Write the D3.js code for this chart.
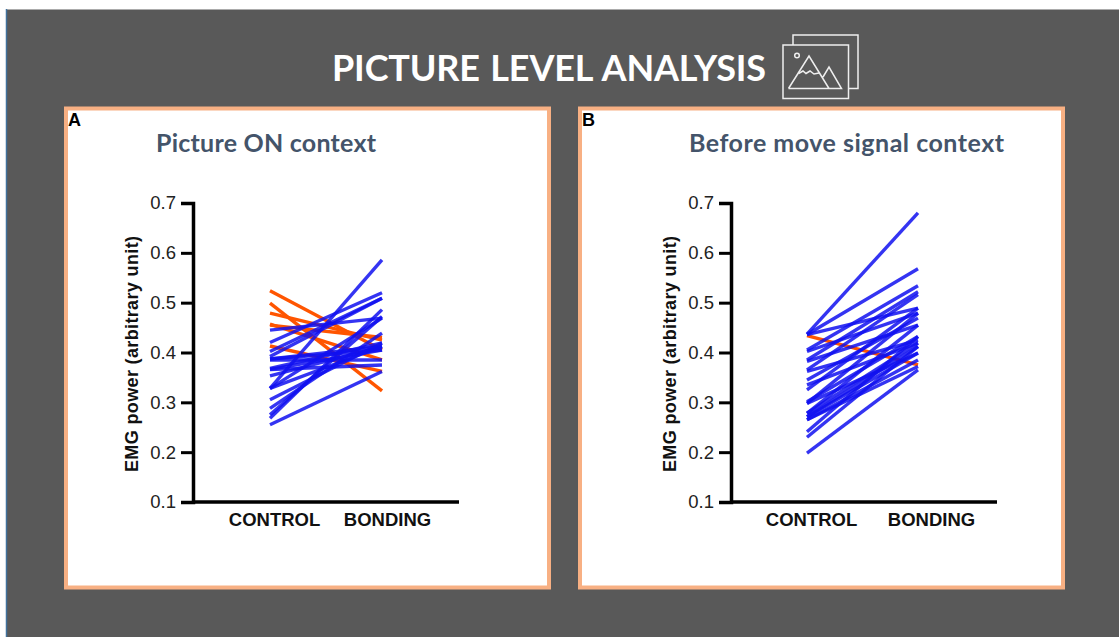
<!DOCTYPE html>
<html>
<head>
<meta charset="utf-8">
<script src="https://cdn.jsdelivr.net/npm/d3@7"></script>
<style>
  html, body { margin: 0; padding: 0; background: #fff; overflow: hidden; }
  svg { display: block; }
  .tick text { font-family: "Liberation Sans", sans-serif; }
</style>
</head>
<body>
<div id="chart"></div>
<script>
// Categories and ticks
var categories = ['CONTROL', 'BONDING']
var yTicks = [0.1, 0.2, 0.3, 0.4, 0.5, 0.6, 0.7]

// Panel A, one entry per picture
var aControl = [0.524, 0.499, 0.479, 0.457, 0.455, 0.413,
  0.445, 0.420, 0.402, 0.392, 0.387, 0.387, 0.385, 0.368, 0.366, 0.366, 0.353, 0.328, 0.328, 0.328, 0.305, 0.288, 0.275, 0.268, 0.255]
var aBonding = [0.405, 0.323, 0.425, 0.385, 0.430, 0.362,
  0.469, 0.520, 0.509, 0.509, 0.412, 0.405, 0.385, 0.419, 0.405, 0.375, 0.412, 0.586, 0.469, 0.412, 0.419, 0.439, 0.472, 0.486, 0.362]

// Panel B
var bControl = [0.434,
  0.437, 0.436, 0.436, 0.405, 0.402, 0.385, 0.382, 0.365, 0.362, 0.345, 0.335, 0.325, 0.301, 0.298, 0.298, 0.278, 0.278, 0.271, 0.271, 0.265, 0.265, 0.241, 0.230, 0.198]
var bBonding = [0.375,
  0.680, 0.568, 0.489, 0.534, 0.479, 0.522, 0.455, 0.516, 0.425, 0.469, 0.419, 0.489, 0.432, 0.479, 0.399, 0.455, 0.419, 0.399, 0.412, 0.385, 0.372, 0.432, 0.412, 0.365]

var width = 1119
var height = 637

var svg = d3.select('#chart').append('svg')
  .attr('width', width)
  .attr('height', height)

// Slide background
svg.append('rect').attr('width', width).attr('height', height).attr('fill', '#fff')
svg.append('rect').attr('x', 6.5).attr('y', 9.5).attr('width', width).attr('height', height)
  .attr('fill', '#595959')
svg.append('line').attr('x1', 6.5).attr('x2', 6.5).attr('y1', 9).attr('y2', height)
  .attr('stroke', '#41719c').attr('stroke-width', 1.5)

// Title
svg.append('text')
  .attr('x', 332).attr('y', 81)
  .attr('font-family', 'Lato, sans-serif')
  .attr('font-weight', 700)
  .attr('font-size', 36)
  .attr('word-spacing', 2)
  .attr('textLength', 434)
  .attr('fill', '#fff')
  .text('PICTURE LEVEL ANALYSIS')

// Picture icon next to the title
var icon = svg.append('g').attr('fill', 'none').attr('stroke', '#eee').attr('stroke-width', 1.5)
icon.append('path').attr('d', 'M793,45V35H858V88.5H848.5')
icon.append('rect').attr('x', 783).attr('y', 45).attr('width', 65.5).attr('height', 53.5)
icon.append('path').attr('d', 'M788.5,88.5L809,56L829,88.5M823,77L829,67L841.5,88.5H788.5')
icon.append('path').attr('d', 'M798.5,73.5L803,71L806,73.5L810,71L814,74L819,73')
icon.append('circle').attr('cx', 797).attr('cy', 55.5).attr('r', 2.3)

// One panel: frame, titles, axes, one line per picture
function drawPanel(p) {
  var g = svg.append('g')

  g.append('rect')
    .attr('x', p.left + 2).attr('y', 108.5)
    .attr('width', 483).attr('height', 479)
    .attr('fill', '#fff')
    .attr('stroke', '#f8b083')
    .attr('stroke-width', 4)

  g.append('text')
    .attr('x', p.left + 4).attr('y', 126)
    .attr('font-family', 'Liberation Sans, sans-serif')
    .attr('font-weight', 700)
    .attr('font-size', 18)
    .text(p.letter)

  g.append('text')
    .attr('x', p.titleX).attr('y', 152)
    .attr('font-family', 'Lato, sans-serif')
    .attr('font-weight', 700)
    .attr('font-size', 25)
    .attr('textLength', p.titleLength)
    .attr('fill', '#44546a')
    .text(p.title)

  var yScale = d3.scaleLinear().domain([0.1, 0.7]).range([502, 203])
  var xScale = d3.scalePoint().domain(categories).range(p.xRange)
  var labelScale = d3.scalePoint().domain(categories).range(p.labelRange)

  var yAxis = d3.axisLeft(yScale)
    .tickValues(yTicks)
    .tickFormat(d3.format('.1f'))
    .tickSize(12)
    .tickPadding(5)

  var xAxis = d3.axisBottom(labelScale).tickSize(0).tickPadding(11)

  var gy = g.append('g')
    .attr('transform', 'translate(' + p.axisX + ',0)')
    .call(yAxis)
  gy.selectAll('.tick line').attr('stroke', '#000').attr('stroke-width', 3)
  gy.selectAll('.tick text').attr('font-size', 18.5).attr('fill', '#222')
  gy.select('.domain').attr('stroke', '#000').attr('stroke-width', 3.5)

  var gx = g.append('g')
    .attr('transform', 'translate(0,502)')
    .call(xAxis)
  gx.select('.domain')
    .attr('d', 'M' + p.axisX + ',0H' + (p.axisX + 266))
    .attr('stroke', '#000').attr('stroke-width', 3.5)
  gx.selectAll('.tick text')
    .attr('font-size', 18.5).attr('font-weight', 700).attr('fill', '#111')

  g.append('text')
    .attr('transform', 'translate(' + (p.axisX - 55) + ',354) rotate(-90)')
    .attr('text-anchor', 'middle')
    .attr('font-family', 'Liberation Sans, sans-serif')
    .attr('font-weight', 700)
    .attr('font-size', 18)
    .attr('textLength', 236)
    .attr('fill', '#111')
    .text('EMG power (arbitrary unit)')

  var rows = p.control.map(function(d, i) { return [d, p.bonding[i]] })

  var line = d3.line()
    .x(function(d, i) { return xScale(categories[i]) })
    .y(function(d) { return yScale(d) })

  // Decreasing pictures are orange and sit under the blue ones
  g.append('g')
    .attr('fill', 'none')
    .selectAll('path')
    .data(rows.slice().sort(function(a, b) { return (b[1] < b[0]) - (a[1] < a[0]) }))
    .enter()
    .append('path')
    .attr('d', line)
    .attr('stroke', function(d) { return d[1] < d[0] ? '#ff5500' : '#1010f0' })
    .attr('stroke-opacity', function(d) { return d[1] < d[0] ? 1 : 0.85 })
    .attr('stroke-width', 3.4)
}

drawPanel({
  letter: 'A', title: 'Picture ON context', left: 64, titleX: 156, titleLength: 220,
  axisX: 193, xRange: [270, 382], labelRange: [274, 387],
  control: aControl, bonding: aBonding
})

drawPanel({
  letter: 'B', title: 'Before move signal context', left: 578, titleX: 689, titleLength: 315,
  axisX: 731, xRange: [807, 918], labelRange: [811, 931],
  control: bControl, bonding: bBonding
})
</script>
</body>
</html>
